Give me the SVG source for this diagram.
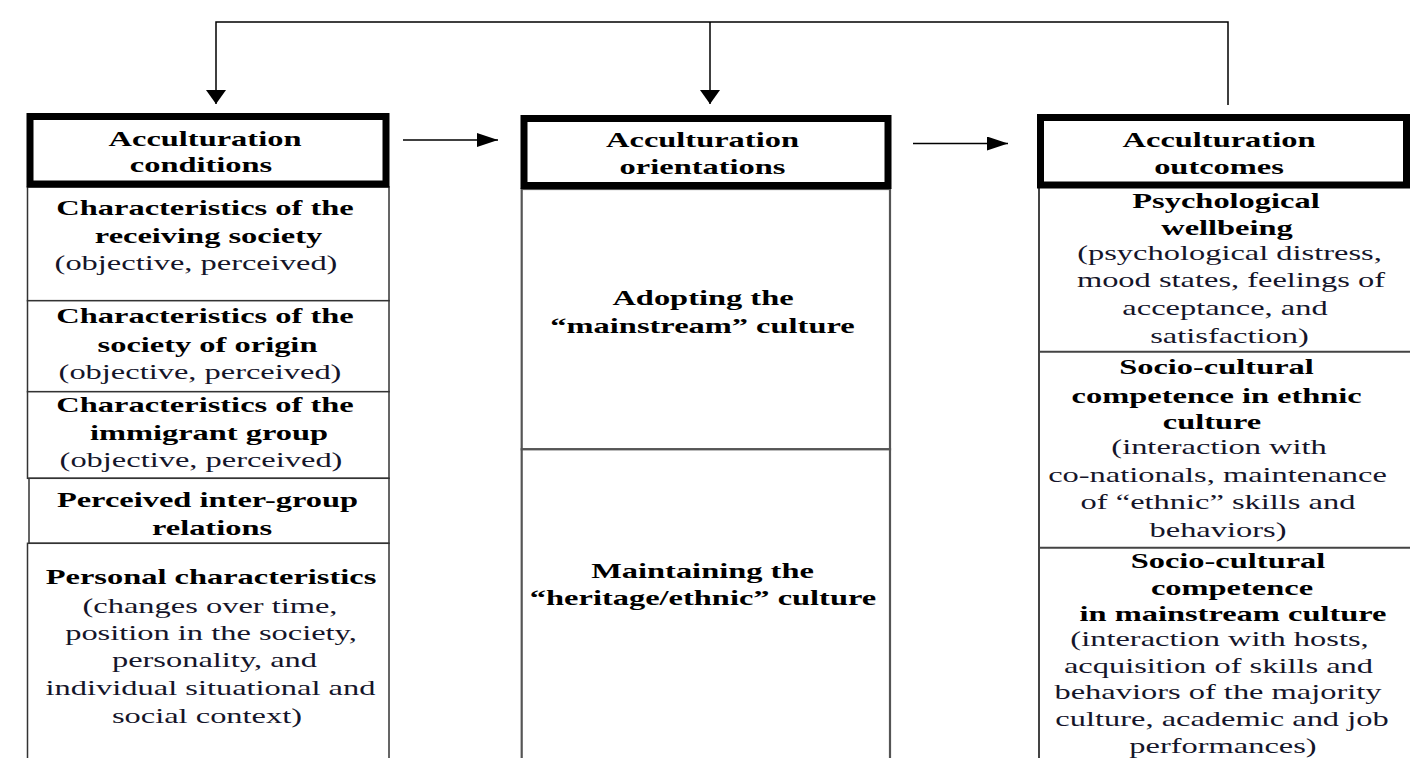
<svg xmlns="http://www.w3.org/2000/svg" width="1410" height="758" viewBox="0 0 1410 758">
<style>
text{font-family:"Liberation Serif","Times New Roman",serif;font-size:22px;text-anchor:middle}
.b{font-weight:bold;fill:#000}
.r{fill:#15152a}
.hdr{fill:#fff;stroke:#000;stroke-width:7}
.cl{fill:#fff;stroke:#333;stroke-width:1.5}
.cm{fill:#fff;stroke:#555;stroke-width:2.2}
.cr{fill:none;stroke:#444;stroke-width:2}
.con{fill:none;stroke:#000;stroke-width:1.5}
</style>
<defs>
<marker id="ahV" markerUnits="userSpaceOnUse" markerWidth="14" markerHeight="20" refX="14" refY="10" orient="auto"><path d="M0,0 L14,10 L0,20 z" fill="#000"/></marker>
<marker id="ahH" markerUnits="userSpaceOnUse" markerWidth="21" markerHeight="14" refX="21" refY="7" orient="auto"><path d="M0,0 L21,7 L0,14 z" fill="#000"/></marker>
</defs>
<rect width="1410" height="758" fill="#fff"/>

<g id="connectors">
<path class="con" d="M1228,105 V22 H216 V104" marker-end="url(#ahV)"/>
<path class="con" d="M710,22 V104" marker-end="url(#ahV)"/>
<path class="con" d="M403,140 H498" marker-end="url(#ahH)"/>
<path class="con" d="M913,143.5 H1008" marker-end="url(#ahH)"/>
</g>

<!-- Left column -->
<g id="n-cond-receiving">
<rect class="cl" x="27.5" y="187" width="361.5" height="113.7"/>
<text class="b" transform="translate(205,215) scale(1.475,1)">Characteristics of the</text>
<text class="b" transform="translate(208.5,243) scale(1.475,1)">receiving society</text>
<text class="r" transform="translate(196,270) scale(1.475,1)">(objective, perceived)</text>
</g>
<g id="n-cond-origin">
<rect class="cl" x="27.5" y="300.7" width="361.5" height="91"/>
<text class="b" transform="translate(205,323) scale(1.475,1)">Characteristics of the</text>
<text class="b" transform="translate(207.5,351.7) scale(1.475,1)">society of origin</text>
<text class="r" transform="translate(200,379) scale(1.475,1)">(objective, perceived)</text>
</g>
<g id="n-cond-group">
<rect class="cl" x="27.5" y="391.7" width="361.5" height="86.6"/>
<text class="b" transform="translate(205,412) scale(1.475,1)">Characteristics of the</text>
<text class="b" transform="translate(209,440) scale(1.475,1)">immigrant group</text>
<text class="r" transform="translate(201,467) scale(1.475,1)">(objective, perceived)</text>
</g>
<g id="n-cond-intergroup">
<rect class="cl" x="29" y="478.3" width="360" height="65"/>
<text class="b" transform="translate(207.5,507) scale(1.475,1)">Perceived inter-group</text>
<text class="b" transform="translate(212,535) scale(1.475,1)">relations</text>
</g>
<g id="n-cond-personal">
<rect class="cl" x="27.5" y="543.3" width="361.5" height="230"/>
<text class="b" transform="translate(211,584) scale(1.475,1)">Personal characteristics</text>
<text class="r" transform="translate(210,613) scale(1.475,1)">(changes over time,</text>
<text class="r" transform="translate(211,640) scale(1.475,1)">position in the society,</text>
<text class="r" transform="translate(214.5,667) scale(1.475,1)">personality, and</text>
<text class="r" transform="translate(210.5,695) scale(1.475,1)">individual situational and</text>
<text class="r" transform="translate(207,722.7) scale(1.475,1)">social context)</text>
</g>
<g id="n-conditions">
<rect class="hdr" x="30" y="116.5" width="356" height="67.5"/>
<text class="b" transform="translate(205,145.7) scale(1.475,1)">Acculturation</text>
<text class="b" transform="translate(201,171.7) scale(1.475,1)">conditions</text>
</g>

<!-- Middle column -->
<g id="n-orient-adopt">
<rect class="cm" x="521.7" y="189" width="368.3" height="260.3"/>
<text class="b" transform="translate(703,305) scale(1.475,1)">Adopting the</text>
<text class="b" transform="translate(702.5,332.7) scale(1.475,1)">“mainstream” culture</text>
</g>
<g id="n-orient-maintain">
<rect class="cm" x="521.7" y="449.3" width="368.3" height="320"/>
<text class="b" transform="translate(702.5,578.3) scale(1.475,1)">Maintaining the</text>
<text class="b" transform="translate(703,605) scale(1.475,1)">“heritage/ethnic” culture</text>
</g>
<g id="n-orientations">
<rect class="hdr" x="524" y="118.5" width="364" height="67"/>
<text class="b" transform="translate(702.5,146.7) scale(1.475,1)">Acculturation</text>
<text class="b" transform="translate(702.5,174) scale(1.475,1)">orientations</text>
</g>

<!-- Right column -->
<g id="n-out-psych">
<path class="cr" d="M1039,188 V351.7 H1415"/>
<text class="b" transform="translate(1226,208) scale(1.475,1)">Psychological</text>
<text class="b" transform="translate(1227,235) scale(1.475,1)">wellbeing</text>
<text class="r" transform="translate(1229.5,260) scale(1.475,1)">(psychological distress,</text>
<text class="r" transform="translate(1231,286.7) scale(1.475,1)">mood states, feelings of</text>
<text class="r" transform="translate(1225,315) scale(1.475,1)">acceptance, and</text>
<text class="r" transform="translate(1229.5,342.7) scale(1.475,1)">satisfaction)</text>
</g>
<g id="n-out-ethnic">
<path class="cr" d="M1039,351.7 V547.7 H1415"/>
<text class="b" transform="translate(1216.5,374.3) scale(1.475,1)">Socio-cultural</text>
<text class="b" transform="translate(1216.7,402.7) scale(1.475,1)">competence in ethnic</text>
<text class="b" transform="translate(1212,429.3) scale(1.475,1)">culture</text>
<text class="r" transform="translate(1219,454) scale(1.475,1)">(interaction with</text>
<text class="r" transform="translate(1217.5,481.7) scale(1.475,1)">co-nationals, maintenance</text>
<text class="r" transform="translate(1218,509.3) scale(1.475,1)">of “ethnic” skills and</text>
<text class="r" transform="translate(1218,536.7) scale(1.475,1)">behaviors)</text>
</g>
<g id="n-out-mainstream">
<path class="cr" d="M1039,547.7 V760"/>
<text class="b" transform="translate(1228,568.3) scale(1.475,1)">Socio-cultural</text>
<text class="b" transform="translate(1232,595) scale(1.475,1)">competence</text>
<text class="b" transform="translate(1233,620.7) scale(1.475,1)">in mainstream culture</text>
<text class="r" transform="translate(1219.5,646) scale(1.475,1)">(interaction with hosts,</text>
<text class="r" transform="translate(1218.5,672.7) scale(1.475,1)">acquisition of skills and</text>
<text class="r" transform="translate(1218,699.3) scale(1.475,1)">behaviors of the majority</text>
<text class="r" transform="translate(1222,726) scale(1.475,1)">culture, academic and job</text>
<text class="r" transform="translate(1223,752.7) scale(1.475,1)">performances)</text>
</g>
<g id="n-outcomes">
<rect class="hdr" x="1040.5" y="117.5" width="366" height="67.5"/>
<text class="b" transform="translate(1219,146.7) scale(1.475,1)">Acculturation</text>
<text class="b" transform="translate(1219,174) scale(1.475,1)">outcomes</text>
</g>
</svg>
